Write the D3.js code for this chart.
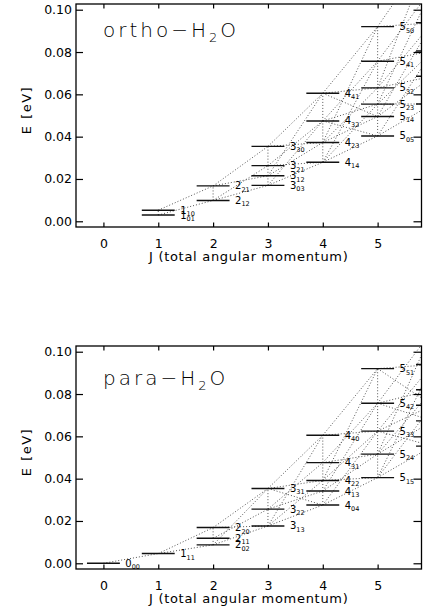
<!DOCTYPE html>
<html>
<head>
<meta charset="utf-8">
<script src="https://cdn.jsdelivr.net/npm/d3@7"></script>
<style>
body { margin: 0; background: #fff; }
text { font-family: "DejaVu Sans", sans-serif; fill: #000; }
</style>
</head>
<body>
<div id="chart"></div>
<script>
// rotational levels of water, energies in eV (J_KaKc)
var orthoLevels = ["1_01", "1_10", "2_12", "2_21", "3_03", "3_12", "3_21", "3_30",
    "4_14", "4_23", "4_32", "4_41", "5_05", "5_14", "5_23", "5_32", "5_41", "5_50",
    "6_16", "6_25", "6_34", "6_43", "6_52", "6_61"];
var orthoEnergy = [0.00295, 0.00525, 0.00986, 0.01673, 0.01696, 0.02150, 0.02630, 0.03539,
    0.02788, 0.03724, 0.04743, 0.06052, 0.04034, 0.04953, 0.05538, 0.06308, 0.07567, 0.09201,
    0.05545, 0.06855, 0.08046, 0.09382, 0.11018, 0.12957];
var orthoLinks = [
    ["1_01", "1_10"], ["2_12", "2_21"], ["3_03", "3_12"], ["3_12", "3_21"], ["3_21", "3_30"],
    ["4_14", "4_23"], ["4_23", "4_32"], ["4_32", "4_41"],
    ["5_05", "5_14"], ["5_14", "5_23"], ["5_23", "5_32"], ["5_32", "5_41"], ["5_41", "5_50"],
    ["1_01", "2_12"], ["1_10", "2_21"], ["2_12", "3_03"], ["2_12", "3_21"], ["2_21", "3_12"], ["2_21", "3_30"],
    ["3_03", "4_14"], ["3_12", "4_23"], ["3_21", "4_32"], ["3_30", "4_41"],
    ["3_03", "4_32"], ["3_12", "4_41"], ["3_21", "4_14"], ["3_30", "4_23"],
    ["4_14", "5_05"], ["4_14", "5_23"], ["4_23", "5_14"], ["4_23", "5_32"], ["4_32", "5_23"], ["4_32", "5_41"],
    ["4_41", "5_32"], ["4_41", "5_50"],
    ["4_14", "5_41"], ["4_23", "5_50"], ["4_32", "5_05"], ["4_41", "5_14"],
    ["5_05", "6_16"], ["5_14", "6_25"], ["5_23", "6_34"], ["5_32", "6_43"], ["5_41", "6_52"], ["5_50", "6_61"],
    ["5_05", "6_34"], ["5_14", "6_43"], ["5_23", "6_16"], ["5_23", "6_52"], ["5_32", "6_25"], ["5_32", "6_61"],
    ["5_41", "6_34"], ["5_50", "6_43"]
];

var paraLevels = ["0_00", "1_11", "2_02", "2_11", "2_20", "3_13", "3_22", "3_31",
    "4_04", "4_13", "4_22", "4_31", "4_40", "5_15", "5_24", "5_33", "5_42", "5_51",
    "6_06", "6_15", "6_24", "6_33", "6_42", "6_51"];
var paraEnergy = [0, 0.00460, 0.00869, 0.01180, 0.01688, 0.01764, 0.02558, 0.03536,
    0.02753, 0.03416, 0.03915, 0.04759, 0.06052, 0.04050, 0.05160, 0.06248, 0.07564, 0.09200,
    0.05538, 0.06731, 0.07473, 0.08202, 0.09395, 0.11017];
var paraLinks = [
    ["2_02", "2_11"], ["2_11", "2_20"], ["3_13", "3_22"], ["3_22", "3_31"],
    ["4_04", "4_13"], ["4_13", "4_22"], ["4_22", "4_31"], ["4_31", "4_40"],
    ["5_15", "5_24"], ["5_24", "5_33"], ["5_33", "5_42"], ["5_42", "5_51"],
    ["0_00", "1_11"], ["1_11", "2_02"], ["1_11", "2_20"], ["2_02", "3_13"], ["2_11", "3_22"], ["2_20", "3_31"],
    ["2_02", "3_31"], ["2_20", "3_13"],
    ["3_13", "4_04"], ["3_13", "4_22"], ["3_22", "4_13"], ["3_22", "4_31"], ["3_31", "4_22"], ["3_31", "4_40"],
    ["3_13", "4_40"], ["3_31", "4_04"],
    ["4_04", "5_15"], ["4_13", "5_24"], ["4_22", "5_33"], ["4_31", "5_42"], ["4_40", "5_51"],
    ["4_04", "5_33"], ["4_13", "5_42"], ["4_22", "5_15"], ["4_22", "5_51"], ["4_31", "5_24"], ["4_40", "5_33"],
    ["5_15", "6_06"], ["5_15", "6_24"], ["5_24", "6_15"], ["5_24", "6_33"], ["5_33", "6_24"], ["5_33", "6_42"],
    ["5_42", "6_33"], ["5_42", "6_51"], ["5_51", "6_42"],
    ["5_15", "6_42"], ["5_24", "6_51"], ["5_33", "6_06"], ["5_42", "6_15"], ["5_51", "6_24"]
];

var jTicks = [0, 1, 2, 3, 4, 5];
var eTicks = [0, 0.02, 0.04, 0.06, 0.08, 0.10];

var width = 435, height = 614;
var left = 76, right = 421.5, panelH = 223;

var svg = d3.select("#chart").append("svg").attr("width", width).attr("height", height);
var x = d3.scaleLinear().domain([-0.5, 5.8]).range([left, right]);

function drawPanel(top, id, name, levels, energies, links, titleY) {
    var y = d3.scaleLinear().domain([-0.0027, 0.1027]).range([top + panelH, top]);
    var pos = {};
    levels.forEach(function(l, i) {
        pos[l] = { J: +l.split("_")[0], sub: l.split("_")[1], E: energies[i] };
    });

    svg.append("clipPath").attr("id", id).append("rect")
        .attr("x", left).attr("y", top).attr("width", right - left).attr("height", panelH);
    var g = svg.append("g").attr("clip-path", "url(#" + id + ")");

    // transitions
    g.selectAll(".link").data(links).enter().append("line")
        .attr("x1", function(d) { return x(pos[d[0]].J); })
        .attr("y1", function(d) { return y(pos[d[0]].E); })
        .attr("x2", function(d) { return x(pos[d[1]].J); })
        .attr("y2", function(d) { return y(pos[d[1]].E); })
        .attr("stroke", "#555").attr("stroke-width", 1).attr("stroke-dasharray", "1,2");

    // levels
    var lv = levels.map(function(l) { return pos[l]; });
    g.selectAll(".lvl").data(lv).enter().append("line")
        .attr("x1", function(d) { return x(d.J - 0.3); })
        .attr("x2", function(d) { return x(d.J + 0.3); })
        .attr("y1", function(d) { return y(d.E); })
        .attr("y2", function(d) { return y(d.E); })
        .attr("stroke", "#111").attr("stroke-width", 1.4);

    var lab = g.selectAll(".lab").data(lv.filter(function(d) { return d.J <= 5; })).enter().append("text")
        .attr("x", function(d) { return x(d.J + 0.4); })
        .attr("y", function(d) { return y(d.E) + 3.5; })
        .style("font-size", "10px");
    lab.append("tspan").text(function(d) { return d.J; });
    lab.append("tspan").attr("dy", 2.5).style("font-size", "6.5px").text(function(d) { return d.sub; });

    // axes
    var ax = svg.append("g").attr("transform", "translate(" + left + ",0)")
        .call(d3.axisLeft(y).tickValues(eTicks).tickSizeInner(-7).tickSizeOuter(0).tickPadding(4).tickFormat(d3.format(".2f")));
    var ax2 = svg.append("g").attr("transform", "translate(" + right + ",0)")
        .call(d3.axisRight(y).tickValues(eTicks).tickSizeInner(-8).tickSizeOuter(0).tickFormat(""));
    var ax3 = svg.append("g").attr("transform", "translate(0," + (top + panelH) + ")")
        .call(d3.axisBottom(x).tickValues(jTicks).tickSizeInner(-4.5).tickSizeOuter(0).tickPadding(12.5).tickFormat(d3.format("d")));
    var ax4 = svg.append("g").attr("transform", "translate(0," + top + ")")
        .call(d3.axisTop(x).tickValues(jTicks).tickSizeInner(-4.5).tickSizeOuter(0).tickFormat(""));
    [ax, ax2, ax3, ax4].forEach(function(a) {
        a.select(".domain").remove();
        a.attr("font-family", null).attr("font-size", null);
        a.selectAll("line").attr("stroke", "#000").attr("stroke-width", 1.2);
        a.selectAll("text").style("font-size", "12.5px");
    });

    svg.append("rect").attr("x", left).attr("y", top).attr("width", right - left).attr("height", panelH)
        .attr("fill", "none").attr("stroke", "#000").attr("stroke-width", 1.3);

    svg.append("text").attr("x", (left + right) / 2).attr("y", top + panelH + 33.5)
        .attr("text-anchor", "middle").style("font-size", "13px").style("letter-spacing", "0.7px")
        .text("J (total angular momentum)");

    svg.append("text").attr("transform", "translate(31," + (top + 106) + ") rotate(-90)")
        .attr("text-anchor", "middle").style("font-size", "13px").style("letter-spacing", "1.5px")
        .text("E [eV]");

    var t = svg.append("text").attr("x", 103).attr("y", titleY)
        .style("font-size", "20px").style("font-weight", "300").style("letter-spacing", "3px");
    t.append("tspan").text(name + "\u2212H");
    t.append("tspan").attr("dy", 5).style("font-size", "13px").text("2");
    t.append("tspan").attr("dy", -5).text("O");
}

drawPanel(4, "clipO", "ortho", orthoLevels, orthoEnergy, orthoLinks, 36.7);
drawPanel(346, "clipP", "para", paraLevels, paraEnergy, paraLinks, 385);
</script>
</body>
</html>
